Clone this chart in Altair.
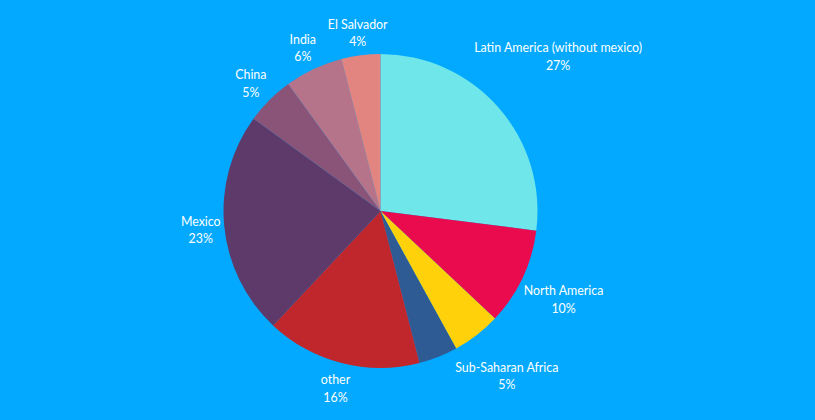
import math
import altair as alt
import pandas as pd

categories = ["Latin America (without mexico)", "North America", "Sub-Saharan Africa",
              "Sub-Saharan (other)", "other", "Mexico", "China", "India", "El Salvador"]
values = [27, 10, 5, 4, 16, 23, 5, 6, 4]
show_label = [True, True, True, False, True, True, True, True, True]
colors = ["#6ee6ea", "#ea0a4e", "#ffd10a", "#2f5b95", "#c0272d",
          "#5d3a6a", "#8a5478", "#b5748a", "#e2847f"]

BG = "#02a9ff"
R = 157
CX, CY = 380.5, 211
FONT_SIZE = 12.4
CHAR_W = 5.7
HALF_H = 16
GAP = 162

total = sum(values)
rows = []
cum = 0
for i, (c, v, s) in enumerate(zip(categories, values, show_label)):
    mid = (cum + v / 2) / total * 2 * math.pi
    cum += v
    hw = len(c) * CHAR_W / 2
    lr = GAP + hw * abs(math.sin(mid)) + HALF_H * abs(math.cos(mid))
    rows.append({
        "category": c,
        "value": v,
        "order": i,
        "label": [c, f"{v}%"] if s else ["", ""],
        "lx": CX + lr * math.sin(mid),
        "ly": CY - lr * math.cos(mid),
    })
df = pd.DataFrame(rows)

pie = alt.Chart(df).mark_arc(outerRadius=R, x=CX, y=CY).encode(
    theta=alt.Theta("value:Q", stack=True),
    order=alt.Order("order:Q"),
    color=alt.Color("category:N", scale=alt.Scale(domain=categories, range=colors), legend=None),
)

labels = alt.Chart(df).mark_text(
    font="Lato", fontSize=FONT_SIZE, color="white",
    align="center", baseline="middle", lineHeight=17.5, dy=-6,
).encode(
    x=alt.X("lx:Q", scale=None),
    y=alt.Y("ly:Q", scale=None),
    text="label",
)

chart = (pie + labels).properties(
    width=815, height=420, background=BG,
    autosize=alt.AutoSizeParams(type="none"), padding=0,
).configure_view(stroke=None)

chart.save("out.html", embed_options={"renderer": "svg", "actions": False})
